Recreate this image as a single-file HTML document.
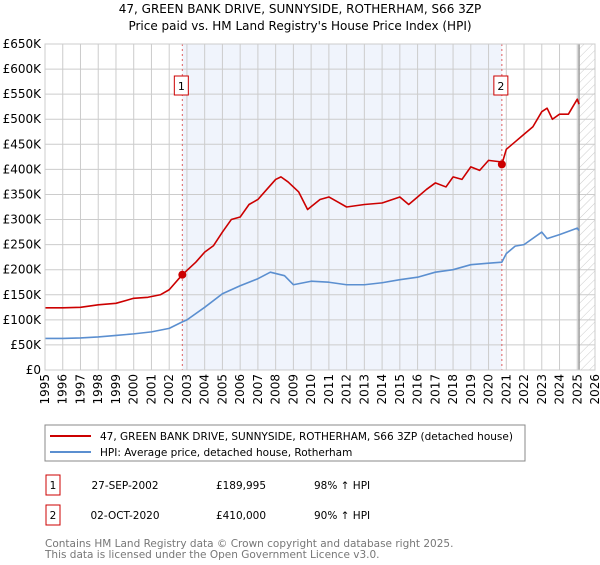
<!DOCTYPE html>
<html><head><meta charset="utf-8"><style>
body{margin:0;background:#fff;font-family:"Liberation Sans","DejaVu Sans",sans-serif;}
svg text{font-family:"DejaVu Sans","Liberation Sans",sans-serif;}
</style></head><body>
<svg id="c" width="600" height="560" xmlns="http://www.w3.org/2000/svg">
<defs><pattern id="hatch" width="6" height="6" patternUnits="userSpaceOnUse" patternTransform="rotate(45)"><line x1="0" y1="0" x2="0" y2="6" stroke="#ccc" stroke-width="1"/></pattern></defs>
<text x="300" y="13" text-anchor="middle" font-size="12" fill="#000">47, GREEN BANK DRIVE, SUNNYSIDE, ROTHERHAM, S66 3ZP</text>
<text x="300" y="30" text-anchor="middle" font-size="12" fill="#000">Price paid vs. HM Land Registry's House Price Index (HPI)</text>
<g id="plot"></g>
<rect x="45" y="425" width="480" height="36" fill="#fff" stroke="#888"/>
<line x1="50" y1="436" x2="91" y2="436" stroke="#cc0000" stroke-width="2"/>
<text x="100" y="440" font-size="10.5">47, GREEN BANK DRIVE, SUNNYSIDE, ROTHERHAM, S66 3ZP (detached house)</text>
<line x1="50" y1="452" x2="91" y2="452" stroke="#5b8fd0" stroke-width="2"/>
<text x="100" y="456" font-size="10.5">HPI: Average price, detached house, Rotherham</text>
<g font-size="10.5">
<rect x="46" y="475" width="14" height="20" fill="#fff" stroke="#cc0000"/><text x="53" y="489" text-anchor="middle">1</text>
<text x="125" y="489" text-anchor="middle">27-SEP-2002</text><text x="241" y="489" text-anchor="middle">£189,995</text><text x="314" y="489">98% ↑ HPI</text></g>
<g font-size="10.5">
<rect x="46" y="505" width="14" height="20" fill="#fff" stroke="#cc0000"/><text x="53" y="519" text-anchor="middle">2</text>
<text x="125" y="519" text-anchor="middle">02-OCT-2020</text><text x="241" y="519" text-anchor="middle">£410,000</text><text x="314" y="519">90% ↑ HPI</text></g>
<text x="45" y="547" font-size="10.5" fill="#777">Contains HM Land Registry data © Crown copyright and database right 2025.</text>
<text x="45" y="558" font-size="10.5" fill="#777">This data is licensed under the Open Government Licence v3.0.</text>
</svg>
<script>
const yTicks=[0,50,100,150,200,250,300,350,400,450,500,550,600,650];
const yTickLabels=["£0","£50K","£100K","£150K","£200K","£250K","£300K","£350K","£400K","£450K","£500K","£550K","£600K","£650K"];
const years=[1995,1996,1997,1998,1999,2000,2001,2002,2003,2004,2005,2006,2007,2008,2009,2010,2011,2012,2013,2014,2015,2016,2017,2018,2019,2020,2021,2022,2023,2024,2025,2026];
const propT=[1995,1996,1997,1998,1999,2000,2000.8,2001.5,2002,2002.74,2003.5,2004,2004.5,2005,2005.5,2006,2006.5,2007,2007.5,2008,2008.3,2008.7,2009.3,2009.8,2010.5,2011,2011.5,2012,2013,2014,2015,2015.5,2016,2016.5,2017,2017.6,2018,2018.5,2019,2019.5,2020,2020.7,2020.75,2021,2021.5,2022,2022.5,2023,2023.3,2023.6,2024,2024.5,2025,2025.1];
const propV=[124,124,125,130,133,143,145,150,160,190,215,235,248,275,300,305,330,340,360,380,385,375,355,320,340,345,335,325,330,333,345,330,345,360,373,365,385,380,405,398,418,415,410,440,455,470,485,515,522,500,510,510,540,530];
const hpiT=[1995,1996,1997,1998,1999,2000,2001,2002,2002.74,2003,2004,2005,2006,2007,2007.7,2008.5,2009,2010,2011,2012,2013,2014,2015,2016,2017,2018,2019,2020,2020.75,2021,2021.5,2022,2023,2023.3,2024,2025,2025.1];
const hpiV=[63,63,64,66,69,72,76,83,96,100,125,152,168,182,195,188,170,177,175,170,170,174,180,185,195,200,210,213,215,232,247,250,275,262,270,283,278];
const sales=[{t:2002.74,v:189.995,n:"1"},{t:2020.75,v:410,n:"2"}];
const X=t=>45+(t-1995)*550/31, Y=v=>370-v*326/650;
const NS="http://www.w3.org/2000/svg", g=document.getElementById('plot');
function mk(tag,attrs,parent){const e=document.createElementNS(NS,tag);for(const k in attrs)e.setAttribute(k,attrs[k]);(parent||g).appendChild(e);return e;}
let e=mk('rect',{x:X(sales[0].t),y:44,width:X(sales[1].t)-X(sales[0].t),height:326,fill:'#f0f4fc'});


e=mk('rect',{x:X(2025.1),y:44,width:595-X(2025.1),height:326,fill:'url(#hatch)'});


yTicks.forEach((v,i)=>{
 let l=mk('line',{x1:45,x2:595,y1:Y(v),y2:Y(v),stroke:'#ccc'});
 
 
 let t=mk('text',{x:41,y:Y(v)+4,'text-anchor':'end','font-size':'12'});t.textContent=yTickLabels[i];
 
 
});
years.forEach(yr=>{
 let l=mk('line',{x1:X(yr),x2:X(yr),y1:44,y2:370,stroke:'#ccc'});
 
 
 let t=mk('text',{x:0,y:0,'text-anchor':'end','font-size':'12',transform:`translate(${X(yr)+4},374) rotate(-90)`});t.textContent=yr;
 
 
});
e=mk('line',{x1:X(2025.1),x2:X(2025.1),y1:44,y2:370,stroke:'#999','stroke-width':1.5});


sales.forEach(s=>{
 let l=mk('line',{x1:X(s.t),x2:X(s.t),y1:44,y2:370,stroke:'#e06060','stroke-dasharray':'2,3'});
 
 
 let b=mk('rect',{x:X(s.t)-8,y:76,width:14,height:19,fill:'#fff',stroke:'#cc0000'});
 
 
 let t=mk('text',{x:X(s.t)-1,y:90,'text-anchor':'middle','font-size':'11'});t.textContent=s.n;
 
 
});
function line(T,V,col,name){let p=mk('polyline',{points:T.map((t,i)=>X(t)+','+Y(V[i])).join(' '),fill:'none',stroke:col,'stroke-width':1.6,'stroke-linejoin':'round'});
 
 }
line(hpiT,hpiV,'#5b8fd0','hpi-line');
line(propT,propV,'#cc0000','property-line');
sales.forEach(s=>{let c=mk('circle',{cx:X(s.t),cy:Y(s.v),r:4,fill:'#cc0000'});
 
 });
e=mk('rect',{x:45,y:44,width:550,height:326,fill:'none',stroke:'#ccc'});


</script>
</body></html>
